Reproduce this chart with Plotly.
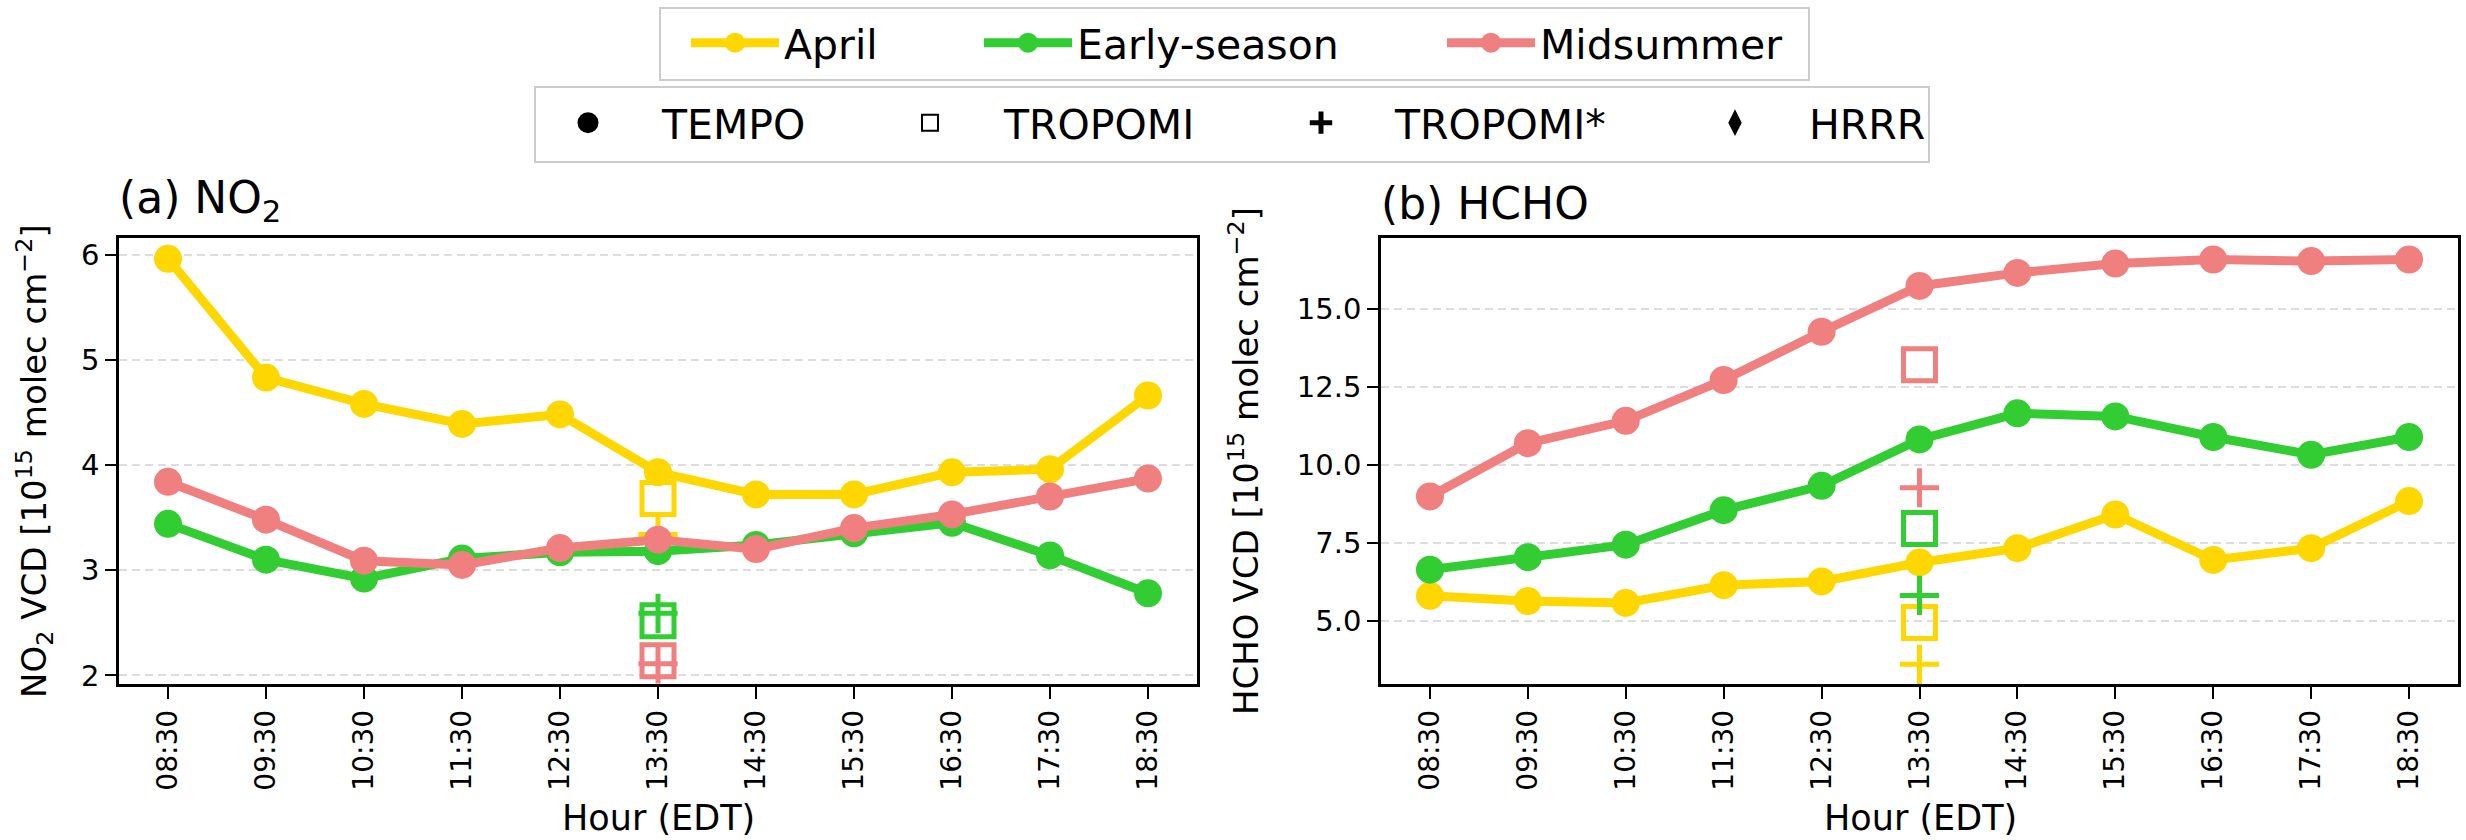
import plotly.graph_objects as go

# ---------------- data ----------------
hours = ["08:30", "09:30", "10:30", "11:30", "12:30", "13:30",
         "14:30", "15:30", "16:30", "17:30", "18:30"]
seasons = ["April", "Early-season", "Midsummer"]
season_colors = ["#FFD700", "#32CD32", "#F08080"]

# TEMPO NO2 VCD [1e15 molec cm-2]
no2_april = [5.96, 4.83, 4.58, 4.39, 4.48, 3.93, 3.72, 3.72, 3.93, 3.96, 4.66]
no2_early = [3.44, 3.10, 2.92, 3.11, 3.17, 3.18, 3.24, 3.35, 3.45, 3.14, 2.78]
no2_mid = [3.84, 3.48, 3.09, 3.05, 3.21, 3.29, 3.20, 3.40, 3.53, 3.70, 3.87]

# TEMPO HCHO VCD [1e15 molec cm-2]
hcho_april = [5.80, 5.63, 5.57, 6.14, 6.26, 6.87, 7.33, 8.41, 6.95, 7.33, 8.84]
hcho_early = [6.64, 7.04, 7.44, 8.55, 9.33, 10.82, 11.66, 11.56, 10.90, 10.33, 10.90]
hcho_mid = [8.99, 10.70, 11.42, 12.73, 14.28, 15.75, 16.17, 16.47, 16.60, 16.55, 16.60]

# TROPOMI (13:30 overpass), order: April, Early-season, Midsummer
tropomi_hour = "13:30"
tropomi_no2 = [3.68, 2.52, 2.14]
tropomi_star_no2 = [3.34, 2.59, 2.11]
tropomi_hcho = [4.94, 7.96, 13.22]
tropomi_star_hcho = [3.60, 5.81, 9.27]

marker_labels = ["TEMPO", "TROPOMI", "TROPOMI*", "HRRR"]
marker_symbols = ["circle", "square-open", "cross-thin", "diamond-tall"]

# ---------------- figure ----------------
W, H = 2466, 840
FONT = "DejaVu Sans"


def px_x(p):
    return p / W


def px_y(p):
    return (H - p) / H


fig = go.Figure()

no2_series = [no2_april, no2_early, no2_mid]
hcho_series = [hcho_april, hcho_early, hcho_mid]

# legend ids for season entries and marker-type entries
season_legends = ["legend", "legend2", "legend3"]
marker_legends = ["legend4", "legend5", "legend6", "legend7"]

for panel, (series, trop, trop_star) in enumerate(
        [(no2_series, tropomi_no2, tropomi_star_no2),
         (hcho_series, tropomi_hcho, tropomi_star_hcho)]):
    xa = "x" if panel == 0 else "x2"
    ya = "y" if panel == 0 else "y2"
    for i, name in enumerate(seasons):
        c = season_colors[i]
        fig.add_trace(go.Scatter(
            x=hours, y=series[i], mode="lines+markers", name=name,
            line=dict(color=c, width=9),
            marker=dict(color=c, size=24, symbol="circle",
                        line=dict(color=c, width=4)),
            xaxis=xa, yaxis=ya, legend=season_legends[i],
            showlegend=(panel == 0)))
        fig.add_trace(go.Scatter(
            x=[tropomi_hour], y=[trop[i]], mode="markers",
            marker=dict(symbol="square-open", size=32, color=c,
                        line=dict(color=c, width=5)),
            xaxis=xa, yaxis=ya, showlegend=False))
        fig.add_trace(go.Scatter(
            x=[tropomi_hour], y=[trop_star[i]], mode="markers",
            marker=dict(symbol="cross-thin", size=28, color=c,
                        line=dict(color=c, width=5)),
            xaxis=xa, yaxis=ya, showlegend=False))

# marker-type legend (legend only)
marker_line_w = [5, 2, 5, 2]
for lab, sym, lg, lw in zip(marker_labels, marker_symbols, marker_legends,
                            marker_line_w):
    fig.add_trace(go.Scatter(
        x=[None], y=[None], mode="markers", name=lab,
        marker=dict(symbol=sym, size=16, color="black",
                    line=dict(color="black", width=lw)),
        xaxis="x", yaxis="y", legend=lg, showlegend=True))

ydom = [px_y(684), px_y(238)]
axis_common = dict(
    showline=True, mirror=True, linecolor="black", linewidth=2.5,
    ticks="outside", tickwidth=2, tickcolor="black",
    zeroline=False, automargin=False,
)
xaxis_common = dict(
    type="category", categoryorder="array", categoryarray=hours,
    range=[-0.5, 10.5], tickangle=-90, showgrid=False, ticklen=12,
    tickfont=dict(family=FONT, size=28, color="black"),
    **axis_common)
yaxis_common = dict(
    showgrid=True, gridcolor="#dddddd", gridwidth=2, griddash="8px,5px",
    ticklen=11, tickfont=dict(family=FONT, size=29, color="black"),
    **axis_common)

fig.update_layout(
    width=W, height=H,
    margin=dict(l=0, r=0, t=0, b=0, autoexpand=False),
    paper_bgcolor="white", plot_bgcolor="white",
    font=dict(family=FONT, color="black"),
    xaxis=dict(domain=[px_x(119), px_x(1197)], anchor="y", **xaxis_common),
    yaxis=dict(domain=ydom, anchor="x", range=[1.918, 6.157], dtick=1,
               **yaxis_common),
    xaxis2=dict(domain=[px_x(1381), px_x(2458)], anchor="y2", **xaxis_common),
    yaxis2=dict(domain=ydom, anchor="x2", range=[2.967, 17.29], dtick=2.5,
                tick0=0, tickformat=".1f", **yaxis_common),
)

# one native legend per entry, so entries can be spaced like the reference
LEG_FONT = dict(family=FONT, size=41, color="black")
season_text_x = [784, 1077, 1540]
for lg, tx in zip(season_legends, season_text_x):
    fig.update_layout({lg: dict(
        orientation="h", x=px_x(tx - 98), xanchor="left",
        y=px_y(43), yanchor="middle", itemwidth=88,
        bgcolor="rgba(0,0,0,0)", borderwidth=0, font=LEG_FONT,
        itemsizing="trace")})
marker_text_x = [662, 1004, 1395, 1809]
for lg, tx in zip(marker_legends, marker_text_x):
    fig.update_layout({lg: dict(
        orientation="h", x=px_x(tx - 148), xanchor="left",
        y=px_y(123), yanchor="middle", itemwidth=138,
        bgcolor="rgba(0,0,0,0)", borderwidth=0, font=LEG_FONT,
        itemsizing="trace")})

# legend frames
for (x0, y0, x1, y1) in [(660, 8, 1809, 80), (535, 87, 1929, 162)]:
    fig.add_shape(type="rect", xref="paper", yref="paper",
                  x0=px_x(x0), x1=px_x(x1), y0=px_y(y1), y1=px_y(y0),
                  line=dict(color="#cccccc", width=2), layer="below")

annotations = [
    dict(text="(a) NO<sub>2</sub>", x=px_x(117), y=px_y(231), xref="paper",
         yref="paper", xanchor="left", yanchor="bottom", showarrow=False,
         font=dict(family=FONT, size=44, color="black")),
    dict(text="(b) HCHO", x=px_x(1379), y=px_y(231), xref="paper",
         yref="paper", xanchor="left", yanchor="bottom", showarrow=False,
         font=dict(family=FONT, size=44, color="black")),
    dict(text="NO<sub>2</sub> VCD [10<sup>15</sup> molec cm<sup>\u22122</sup>]",
         x=px_x(34), y=px_y(461), xref="paper", yref="paper",
         xanchor="center", yanchor="middle", textangle=-90, showarrow=False,
         font=dict(family=FONT, size=34, color="black")),
    dict(text="HCHO VCD [10<sup>15</sup> molec cm<sup>\u22122</sup>]",
         x=px_x(1244), y=px_y(461), xref="paper", yref="paper",
         xanchor="center", yanchor="middle", textangle=-90, showarrow=False,
         font=dict(family=FONT, size=34, color="black")),
    dict(text="Hour (EDT)", x=px_x(658), y=px_y(818), xref="paper",
         yref="paper", xanchor="center", yanchor="middle", showarrow=False,
         font=dict(family=FONT, size=35, color="black")),
    dict(text="Hour (EDT)", x=px_x(1920), y=px_y(818), xref="paper",
         yref="paper", xanchor="center", yanchor="middle", showarrow=False,
         font=dict(family=FONT, size=35, color="black")),
]
fig.update_layout(annotations=annotations)

fig.write_html(
    "out.html",
    config={"displayModeBar": False},
    post_script="document.body.style.margin='0';"
                "document.documentElement.style.overflow='hidden';")
